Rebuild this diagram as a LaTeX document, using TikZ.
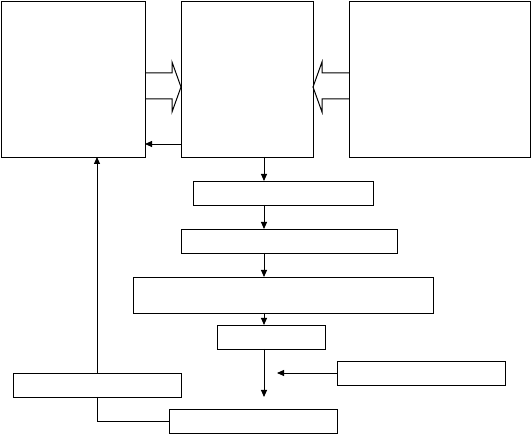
\documentclass[tikz,border=0pt]{standalone}
\usetikzlibrary{arrows.meta}
\begin{document}
\begin{tikzpicture}[x=1pt,y=-1pt,line width=0.9pt,
  box/.style={draw,rectangle,inner sep=0pt,outer sep=0pt,anchor=north west},
  arr/.style={-{Triangle[length=7pt,width=6pt]}},
  hollow/.style={draw,line join=miter,line width=1pt}]
\useasboundingbox (0,0) rectangle (531,435);
% boxes
\node[box,minimum width=144pt,minimum height=156pt] (A) at (1,1) {};
\node[box,minimum width=132pt,minimum height=156pt] (B) at (181,1) {};
\node[box,minimum width=181pt,minimum height=156pt] (C) at (349,1) {};
\node[box,minimum width=180pt,minimum height=24pt] (D) at (193,181) {};
\node[box,minimum width=216pt,minimum height=24pt] (E) at (181,229) {};
\node[box,minimum width=300pt,minimum height=36pt] (F) at (133,277) {};
\node[box,minimum width=108pt,minimum height=24pt] (G) at (217,325) {};
\node[box,minimum width=168pt,minimum height=24pt] (H) at (337,361) {};
\node[box,minimum width=168pt,minimum height=24pt] (I) at (169,409) {};
\node[box,minimum width=168pt,minimum height=24pt] (J) at (13,373) {};
% helper coordinates
\coordinate (xc) at (264,0);
\coordinate (xj) at (97,0);
\coordinate (yba) at (0,144);
\coordinate (gend) at (264,397);
\coordinate (hend) at (277,373);
\coordinate (ya) at (0,73);
\coordinate (yb) at (0,99);
\coordinate (yt) at (0,87);
% hollow block arrows
\draw[hollow] (A.east |- ya) -- (172,73) -- (172,62) -- (B.west |- yt) -- (172,112) -- (172,99) -- (A.east |- yb);
\draw[hollow] (C.west |- ya) -- (322,73) -- (322,62) -- (B.east |- yt) -- (322,112) -- (322,99) -- (C.west |- yb);
% connectors
\draw[arr] (B.west |- yba) -- (A.east |- yba);
\draw[arr] (B.south -| xc) -- (D.north -| xc);
\draw[arr] (D.south -| xc) -- (E.north -| xc);
\draw[arr] (E.south -| xc) -- (F.north -| xc);
\draw[arr] (F.south -| xc) -- (G.north -| xc);
\draw[arr] (G.south -| xc) -- (gend);
\draw[arr] (H.west) -- (hend);
\draw[arr] (J.north -| xj) -- (A.south -| xj);
\draw (J.south -| xj) |- (I.west);
\end{tikzpicture}
\end{document}
